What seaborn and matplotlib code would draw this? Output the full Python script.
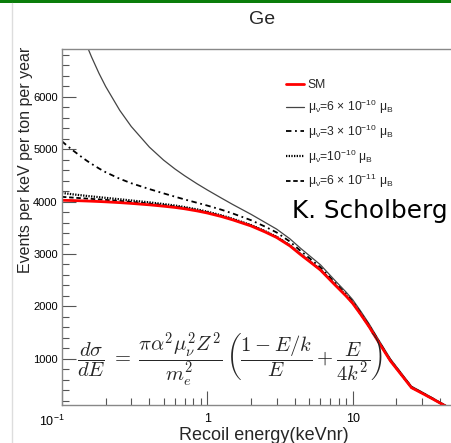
import numpy as np
import pandas as pd
import matplotlib
matplotlib.use("Agg")
import matplotlib.pyplot as plt
import seaborn as sns
from matplotlib.lines import Line2D
from matplotlib.patches import Rectangle
from matplotlib.ticker import FixedLocator, NullFormatter
from matplotlib.font_manager import FontProperties
from matplotlib.transforms import ScaledTranslation

# ---------------- data ----------------
energy = [0.1, 0.11, 0.12, 0.13, 0.14, 0.15, 0.16, 0.18, 0.2, 0.25, 0.3, 0.4, 0.5, 0.6,
          0.7, 0.85, 1.0, 1.25, 1.5, 2.0, 2.5, 3.0, 3.7, 4.4, 5.2, 6.0, 7.5, 9.0, 10,
          11.35, 13, 15, 18.2, 22, 25.4, 30, 35, 43.5, 60]
sm = [4025, 4022, 4019, 4016, 4013, 4010, 4007, 4001, 3995, 3980, 3965, 3938, 3912, 3888,
      3862, 3822, 3782, 3715, 3650, 3535, 3420, 3315, 3155, 2985, 2830, 2695, 2420, 2200, 2060,
      1850, 1610, 1330, 960, 670, 450, 345, 245, 100, -80]
mu_6e10 = [8425, 8022, 7686, 7401, 7156, 6943, 6757, 6445, 6195, 5740, 5432, 5038, 4792, 4621,
           4491, 4340, 4222, 4067, 3943, 3757, 3602, 3475, 3290, 3105, 2938, 2795, 2505, 2275, 2130,
           1912, 1665, 1378, 1000, 703, 478, 369, 265, 115, -68]
mu_3e10 = [5150, 5052, 4969, 4896, 4828, 4770, 4719, 4631, 4560, 4435, 4350, 4238, 4157, 4093,
           4040, 3977, 3924, 3845, 3772, 3645, 3522, 3411, 3237, 3055, 2890, 2747, 2462, 2235, 2092,
           1878, 1635, 1352, 978, 685, 463, 356, 254, 107, -75]
mu_1e10 = [4165, 4150, 4137, 4126, 4116, 4106, 4098, 4084, 4071, 4044, 4021, 3985, 3953, 3925,
           3895, 3851, 3808, 3738, 3671, 3553, 3436, 3330, 3168, 2997, 2841, 2705, 2429, 2208, 2068,
           1857, 1617, 1336, 965, 675, 454, 349, 248, 103, -78]
mu_6e11 = [4090, 4082, 4075, 4068, 4062, 4056, 4051, 4041, 4032, 4012, 3993, 3962, 3933, 3907,
           3879, 3837, 3796, 3727, 3661, 3545, 3429, 3323, 3162, 2992, 2836, 2701, 2425, 2205, 2065,
           1854, 1614, 1334, 963, 673, 453, 347, 247, 102, -79]

series_labels = ["SM",
                 r"μ$_{\mathregular{ν}}$=6 × 10$^{\mathregular{-10}}$ μ$_{\mathregular{B}}$",
                 r"μ$_{\mathregular{ν}}$=3 × 10$^{\mathregular{-10}}$ μ$_{\mathregular{B}}$",
                 r"μ$_{\mathregular{ν}}$=10$^{\mathregular{-10}}$ μ$_{\mathregular{B}}$",
                 r"μ$_{\mathregular{ν}}$=6 × 10$^{\mathregular{-11}}$ μ$_{\mathregular{B}}$"]
y_ticks = [1000, 2000, 3000, 4000, 5000, 6000]
x_ticks = [0.1, 1, 10]
x_ticklabels = [r"10$^{\mathregular{-1}}$", "1", "10"]

title = "Ge"
xlabel = "Recoil energy(keVnr)"
ylabel = "Events per keV per ton per year"
credit = "K. Scholberg"
formula = (r"$\dfrac{d\sigma}{dE}\;=\;\dfrac{\pi\alpha^2\mu_\nu^2 Z^2}{m_e^2}\,"
           r"\left(\dfrac{1-E/k}{E}+\dfrac{E}{4k^2}\right)$")

# ---------------- figure ----------------
sns.set_style("white")
plt.rcParams["font.family"] = ["Liberation Sans", "DejaVu Sans"]

W, H = 452, 443
fig = plt.figure(figsize=(W / 100, H / 100), dpi=100)
fig.patch.set_facecolor("white")

ax_left, ax_right, ax_top, ax_bottom = 61.9, 498.0, 49.0, 405.0
ax = fig.add_axes([ax_left / W, 1 - ax_bottom / H,
                   (ax_right - ax_left) / W, (ax_bottom - ax_top) / H])

styles = [
    dict(color="#ff0000", lw=2.0, linestyle="-"),
    dict(color="#444444", lw=0.9, linestyle="-"),
    dict(color="black", lw=1.3, linestyle=(0, (3, 2, 1, 2))),
    dict(color="black", lw=1.6, linestyle=(0, (0.6, 0.6))),
    dict(color="black", lw=1.3, linestyle=(0, (2.5, 1.5))),
]
all_series = [sm, mu_6e10, mu_3e10, mu_1e10, mu_6e11]
order = [1, 2, 3, 4, 0]   # SM drawn on top
handles = {}
for i in order:
    df = pd.DataFrame({"E": energy, "rate": all_series[i]})
    sns.lineplot(data=df, x="E", y="rate", ax=ax, sort=False, estimator=None,
                 label=series_labels[i], **styles[i])
    handles[i] = ax.get_lines()[-1]

ax.set_xscale("log")
ax.set_xlim(0.1, 100)
ax.set_ylim(120, 6910)

ax.set_yticks(y_ticks)
ax.yaxis.set_minor_locator(FixedLocator(np.arange(200, 6910, 200)))
ax.set_xticks(x_ticks)
ax.set_xticklabels(x_ticklabels)
minor_x = [m * d for d in (0.1, 1, 10) for m in range(2, 10)]
ax.xaxis.set_minor_locator(FixedLocator(minor_x))
ax.xaxis.set_minor_formatter(NullFormatter())
ax.tick_params(axis="both", which="major", direction="in", length=10, width=0.8,
               color="#555555", labelsize=8, labelcolor="black", pad=3)
ax.tick_params(axis="both", which="minor", direction="in", length=5, width=0.8,
               color="#555555")
ax.tick_params(axis="y", which="both", left=True, right=False)
ax.tick_params(axis="x", which="both", bottom=True, top=False)
ax.tick_params(axis="x", which="major", pad=6, labelsize=9)
xt = ax.get_xticklabels()
xt[0].set_ha("right")
xt[0].set_transform(xt[0].get_transform() + ScaledTranslation(3 / 100, 0, fig.dpi_scale_trans))

for s in ax.spines.values():
    s.set_color("#888888")
    s.set_linewidth(1.0)

ax.set_xlabel(xlabel, fontsize=13)
ax.set_ylabel(ylabel, fontsize=11.5)
ax.yaxis.set_label_coords(-(ax_left - 33) / (ax_right - ax_left), (405 - 160) / (405 - 49))
ax.xaxis.set_label_coords((264 - ax_left) / (ax_right - ax_left), -(435 - 405) / (405 - 49))
ax.xaxis.label.set_va("center")

# legend
leg_handles = [handles[i] for i in range(5)]
ax.legend(leg_handles, series_labels, loc="upper left",
          bbox_to_anchor=(286 / W, 1 - 79 / H), bbox_transform=fig.transFigure,
          frameon=False, handlelength=1.5, handletextpad=0.3,
          borderpad=0, borderaxespad=0, labelspacing=0.55,
          prop=FontProperties(family="Liberation Sans", size=8.7))

# title and annotations
fig.text(262 / W, 1 - 19 / H, title, ha="center", va="center", fontsize=14)
fig.text(292 / W, 1 - 218 / H, credit, ha="left", va="baseline", fontsize=17.8,
         family="DejaVu Sans", color="black")
fig.text(77 / W, 1 - 360 / H, formula, ha="left", va="center", fontsize=14.8,
         math_fontfamily="cm")

# slide decorations
fig.add_artist(Rectangle((0, 1 - 3.3 / H), 1, 3.3 / H, transform=fig.transFigure,
                         facecolor="#0a7d0a", edgecolor="none"))
fig.add_artist(Line2D([12.3 / W, 12.3 / W], [0, 1 - 3.3 / H], transform=fig.transFigure,
                      color="#dddddd", lw=1))

fig.savefig("out.png", dpi=100)
